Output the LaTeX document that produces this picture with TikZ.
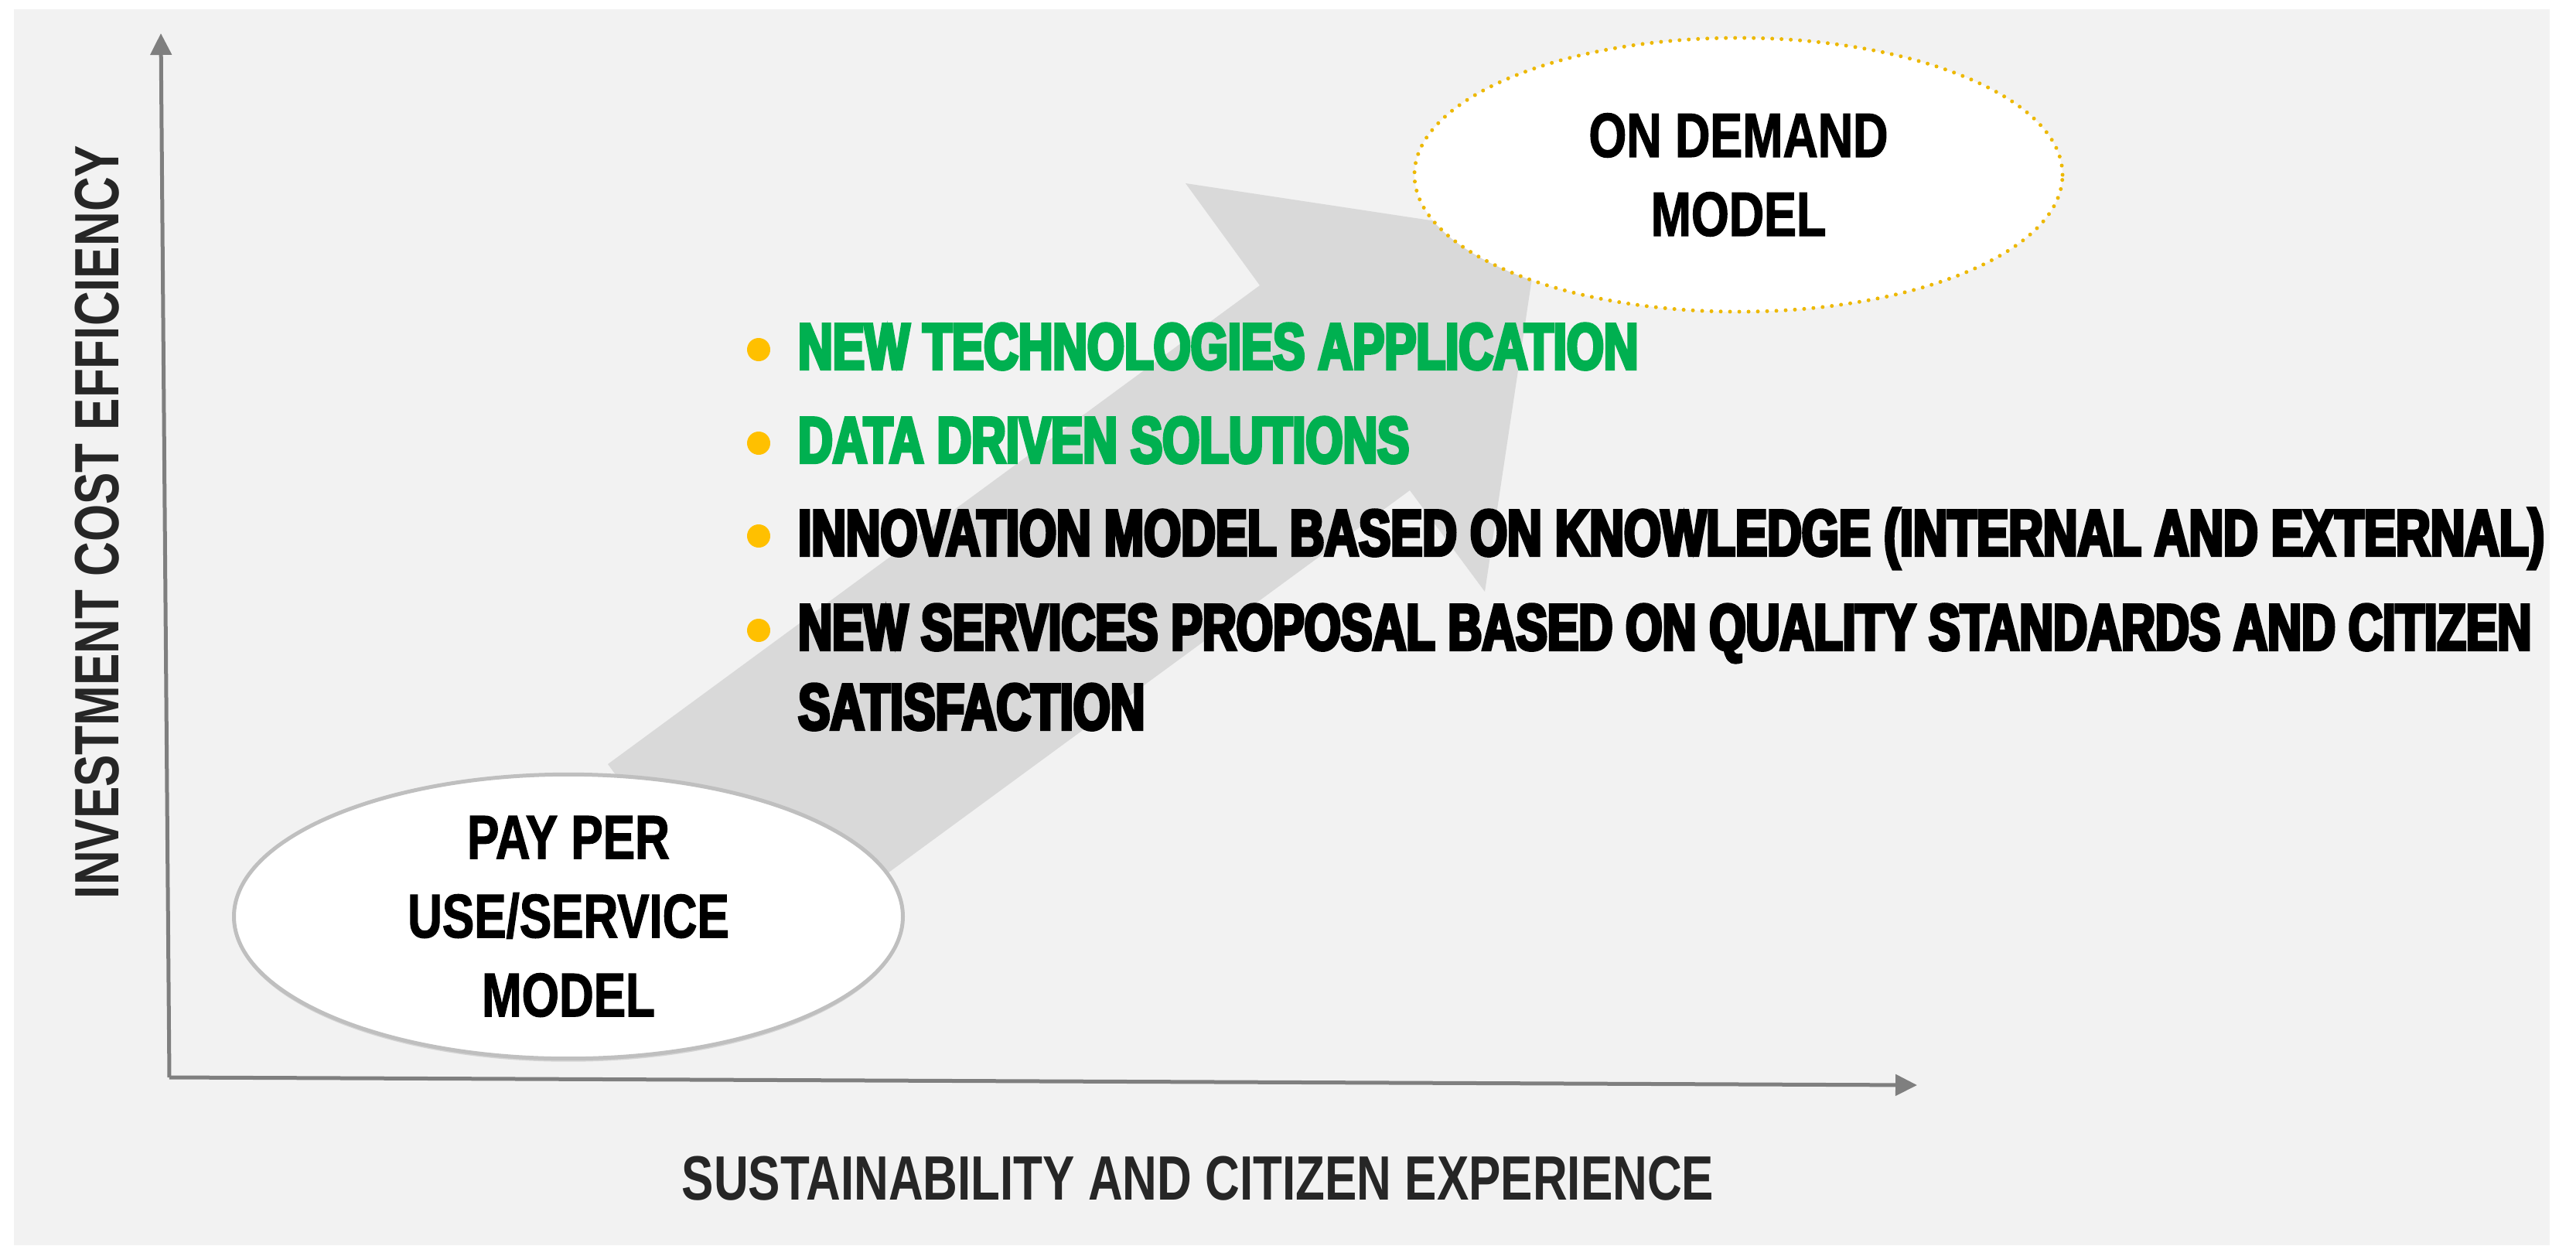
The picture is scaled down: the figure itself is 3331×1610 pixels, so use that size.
\documentclass[tikz,border=0pt]{standalone}
\usepackage{fontspec}
\usetikzlibrary{arrows.meta,shapes.geometric,shadows}
\newfontfamily\axisfont{Liberation Sans Bold}[FakeStretch=0.765]
\newfontfamily\ovalfont{Liberation Sans Bold}[FakeStretch=0.775, FakeBold=1.5]
\newfontfamily\bulfont{Liberation Sans Bold}[FakeStretch=0.735, FakeBold=5]
\definecolor{bgc}{HTML}{F2F2F2}
\definecolor{arrowc}{HTML}{D9D9D9}
\definecolor{axisc}{HTML}{7F7F7F}
\definecolor{ovalc}{HTML}{BFBFBF}
\definecolor{dotc}{HTML}{EDB800}
\definecolor{bulc}{HTML}{FFC000}
\definecolor{greenc}{HTML}{00B050}
\definecolor{labelc}{HTML}{262626}
\tikzset{
  axisline/.style={draw=axisc, line width=5pt, -{Triangle[length=28pt,width=27pt]}},
  payoval/.style={ellipse, draw=ovalc, line width=5pt, fill=white,
    drop shadow={shadow xshift=0pt, shadow yshift=-4pt, fill=black, opacity=0.12},
    minimum width=865pt, minimum height=361pt, inner sep=0pt, align=center,
    font=\ovalfont\fontsize{80pt}{102pt}\selectfont},
  demandoval/.style={ellipse, draw=dotc, line width=5pt, dash pattern=on 0pt off 12pt,
    line cap=round, fill=white, minimum width=838pt, minimum height=354pt,
    inner sep=0pt, align=center,
    font=\ovalfont\fontsize{81pt}{102pt}\selectfont},
  bultext/.style={anchor=base west, inner sep=0pt,
    font=\bulfont\fontsize{84pt}{102pt}\selectfont},
  bul/.style={circle, fill=bulc, minimum size=30pt, inner sep=0pt},
  axislabel/.style={anchor=base, inner sep=0pt, text=labelc,
    font=\axisfont\fontsize{81pt}{100pt}\selectfont}
}
\begin{document}
\begin{tikzpicture}[x=1pt,y=-1pt]
\useasboundingbox (0,0) rectangle (3331,1610);
\fill[bgc] (18,12) rectangle (3297,1610);
% axes
\coordinate (O) at (219,1393);
\coordinate (YT) at (208,43);
\coordinate (XT) at (2479,1403);
\draw[axisline] (O) -- (YT);
\draw[axisline] (O) -- (XT);
% big arrow
\fill[arrowc] (786,988) -- (1629,369) -- (1533,237) -- (1989,306) -- (1920,765)
  -- (1823,634) -- (980,1252) -- cycle;
% ovals
\node[payoval] (pay) at (735,1185) {PAY PER\\USE/SERVICE\\MODEL};
\node[demandoval] (od) at (2248,226) {ON DEMAND\\MODEL};
% bullets
\node[bul] (b1) at (981,452) {};
\node[bul] (b2) at (981,573) {};
\node[bul] (b3) at (981,693) {};
\node[bul] (b4) at (981,815) {};
\node[bultext, text=greenc] (t1) at (1032,477) {NEW TECHNOLOGIES APPLICATION};
\node[bultext, text=greenc] (t2) at (1032,598) {DATA DRIVEN SOLUTIONS};
\node[bultext] (t3) at (1032,718) {INNOVATION MODEL BASED ON KNOWLEDGE (INTERNAL AND EXTERNAL)};
\node[bultext] (t4) at (1032,840) {\scalebox{0.985}[1]{NEW SERVICES PROPOSAL BASED ON QUALITY STANDARDS AND CITIZEN}};
\node[bultext] (t5) at (1032,943) {SATISFACTION};
% axis labels
\node[axislabel] (xl) at (1549,1551) {SUSTAINABILITY AND CITIZEN EXPERIENCE};
\node[axislabel, rotate=90] (yl) at (153,675) {INVESTMENT COST EFFICIENCY};
\end{tikzpicture}
\end{document}
